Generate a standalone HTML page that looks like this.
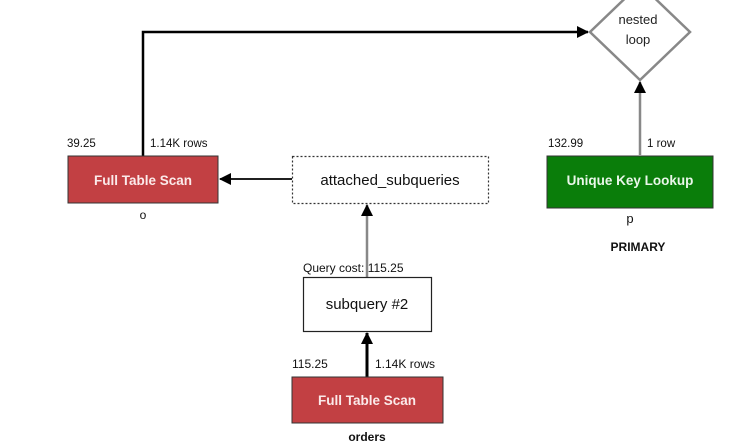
<!DOCTYPE html>
<html><head><meta charset="utf-8"><style>
body{margin:0;background:#fff;}
svg text{font-family:"Liberation Sans",Arial,sans-serif;}
</style></head><body>
<svg width="747" height="442" viewBox="0 0 747 442" xmlns="http://www.w3.org/2000/svg">
<defs>
<marker id="ab" markerWidth="12" markerHeight="12" refX="11" refY="6" orient="auto" markerUnits="userSpaceOnUse"><path d="M0,0 L12,6 L0,12 z" fill="#000"/></marker>
</defs>
<rect x="0" y="0" width="747" height="442" fill="#fff"/>
<polyline points="143,156 143,32 588,32" fill="none" stroke="#000" stroke-width="2.5" marker-end="url(#ab)"/>
<polygon points="640,-16 690,32 640,80 590,32" fill="#fff" stroke="#888" stroke-width="2.5"/>
<text x="638" y="24" font-size="13" text-anchor="middle" fill="#222">nested</text>
<text x="638" y="44" font-size="13" text-anchor="middle" fill="#222">loop</text>
<line x1="640" y1="155" x2="640" y2="82" stroke="#888" stroke-width="2.5" marker-end="url(#ab)"/>
<rect x="68" y="156" width="150" height="47" fill="#c24043" stroke="#333" stroke-width="1"/>
<text x="143" y="185" font-size="13.5" font-weight="bold" text-anchor="middle" fill="#fbeaea">Full Table Scan</text>
<text x="67" y="147" font-size="11.5" fill="#111">39.25</text>
<text x="150" y="147" font-size="11.5" fill="#111">1.14K rows</text>
<text x="143" y="219" font-size="12" text-anchor="middle" fill="#111">o</text>
<rect x="292.5" y="156.5" width="196" height="47" fill="#fff" stroke="#333" stroke-width="1.2" stroke-dasharray="2,2"/>
<text x="390" y="185" font-size="15" text-anchor="middle" fill="#111">attached_subqueries</text>
<line x1="292" y1="179" x2="220" y2="179" stroke="#000" stroke-width="1.8" marker-end="url(#ab)"/>
<rect x="547" y="156" width="166" height="52" fill="#0a7d0a" stroke="#333" stroke-width="1"/>
<text x="630" y="185" font-size="13.5" font-weight="bold" text-anchor="middle" fill="#eaf7ea">Unique Key Lookup</text>
<text x="548" y="147" font-size="11.5" fill="#111">132.99</text>
<text x="647" y="147" font-size="11.5" fill="#111">1 row</text>
<text x="630" y="223" font-size="13" text-anchor="middle" fill="#111">p</text>
<text x="638" y="251" font-size="12" font-weight="bold" text-anchor="middle" fill="#111">PRIMARY</text>
<line x1="367" y1="277" x2="367" y2="205" stroke="#888" stroke-width="2.5" marker-end="url(#ab)"/>
<text x="303" y="272" font-size="12" fill="#111">Query cost: 115.25</text>
<rect x="303.5" y="277.5" width="128" height="54" fill="#fff" stroke="#222" stroke-width="1.2"/>
<text x="367" y="309" font-size="15" text-anchor="middle" fill="#111">subquery #2</text>
<line x1="367" y1="377" x2="367" y2="333" stroke="#000" stroke-width="3" marker-end="url(#ab)"/>
<text x="292" y="368" font-size="12" fill="#111">115.25</text>
<text x="375" y="368" font-size="12" fill="#111">1.14K rows</text>
<rect x="292" y="377" width="151" height="46" fill="#c24043" stroke="#333" stroke-width="1"/>
<text x="367" y="405" font-size="13.5" font-weight="bold" text-anchor="middle" fill="#fbeaea">Full Table Scan</text>
<text x="367" y="441" font-size="12" font-weight="bold" text-anchor="middle" fill="#111">orders</text>
</svg>
</body></html>
